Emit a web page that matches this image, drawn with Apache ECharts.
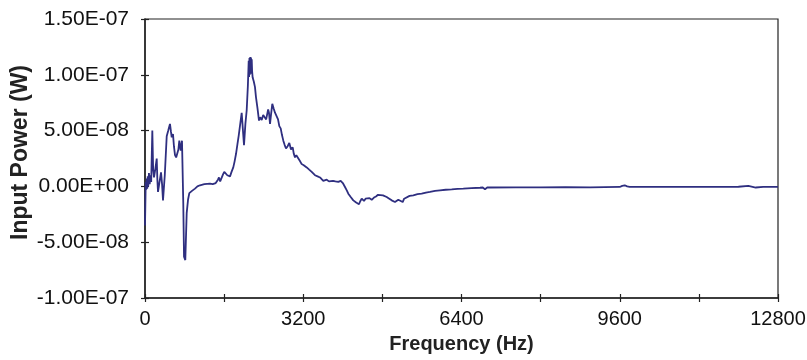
<!DOCTYPE html>
<html>
<head>
<meta charset="utf-8">
<script src="https://cdn.jsdelivr.net/npm/echarts@6/dist/echarts.min.js"></script>
<style>html,body{margin:0;padding:0;background:#fff}#c{width:807px;height:360px}</style>
</head>
<body>
<div id="c"></div>
<script>
// Frequency (Hz)
const freq = [0,15,25,35,45,55,65,80,95,110,125,148,165,182,210,237,250,263,290,324,345,364,400,439,470,505,525,540,566,585,607,630,653,675,694,722,748,774,789,815,843,870,896,950,1011,1060,1112,1200,1314,1340,1369,1400,1430,1450,1475,1496,1520,1551,1580,1603,1630,1664,1690,1719,1750,1785,1810,1840,1870,1895,1921,1955,2002,2030,2056,2080,2097,2105,2112,2120,2128,2136,2143,2150,2158,2166,2177,2200,2224,2244,2275,2305,2330,2360,2390,2426,2450,2473,2490,2507,2528,2550,2574,2600,2629,2663,2690,2716,2744,2770,2797,2825,2851,2885,2918,2952,2987,3010,3033,3060,3094,3130,3168,3210,3270,3320,3371,3400,3437,3490,3539,3570,3605,3640,3674,3720,3760,3801,3850,3909,3957,4000,4044,4080,4111,4160,4212,4270,4327,4350,4382,4428,4460,4495,4540,4584,4630,4671,4712,4752,4812,4850,4887,4940,4988,5020,5055,5090,5122,5160,5211,5240,5278,5350,5425,5510,5595,5680,5763,5865,5965,6080,6202,6320,6436,6600,6774,6830,6875,6920,6976,7500,8000,8500,9000,9600,9650,9700,9750,9800,10500,11000,11500,12000,12200,12350,12500,12800];
// Input power in units of 1e-8 W
const powerE8 = [-3.5,0.4,-0.3,0.7,-0.2,0.9,0.0,1.2,0.2,1.0,0.4,5.0,1.5,0.8,1.6,2.5,0.6,-0.5,0.3,1.25,0.2,-1.25,1.0,4.5,5.0,5.6,4.9,4.4,4.7,3.6,2.8,2.6,2.7,3.3,4.1,3.2,4.1,-1.5,-6.3,-6.6,-2.4,-1.2,-0.6,-0.4,-0.2,0.0,0.1,0.2,0.25,0.15,0.2,0.35,0.3,0.4,0.6,0.8,0.45,0.5,1.1,1.3,1.2,1.0,0.85,0.9,1.3,1.7,2.2,2.9,3.8,4.55,4.4,6.6,3.7,5.6,6.8,9.0,11.25,9.8,11.5,10.0,11.6,10.3,11.55,10.1,11.4,10.3,9.75,9.4,8.9,8.0,7.0,5.9,6.2,5.95,6.4,6.5,6.0,6.1,6.9,6.6,5.6,6.5,7.4,7.0,6.6,6.7,6.0,5.4,5.2,4.6,4.1,3.7,3.4,3.6,3.9,3.3,3.5,2.9,2.6,2.8,2.7,2.3,2.0,1.9,1.7,1.5,1.3,1.2,1.0,0.9,0.8,0.65,0.5,0.6,0.6,0.45,0.55,0.5,0.45,0.4,0.5,0.3,-0.05,-0.35,-0.65,-0.95,-1.25,-1.45,-1.6,-1.35,-1.1,-1.3,-1.1,-0.95,-1.05,-1.2,-1.0,-0.9,-0.75,-0.65,-0.8,-0.9,-0.95,-1.1,-1.25,-1.3,-1.4,-1.25,-1.2,-1.3,-1.4,-1.1,-0.95,-0.85,-0.8,-0.7,-0.65,-0.55,-0.5,-0.4,-0.35,-0.3,-0.27,-0.22,-0.2,-0.15,-0.12,-0.1,-0.25,-0.1,-0.1,-0.08,-0.08,-0.06,-0.08,-0.05,0.05,0.1,0.0,-0.05,-0.05,-0.05,-0.05,-0.03,0.05,-0.1,-0.05,-0.05];
const xTicks = [0,3200,6400,9600,12800];
const yTicksE8 = [-10,-5,0,5,10,15];

const data = freq.map((f, i) => [f, powerE8[i]]);
const fmtY = v => {
  const s = (v * 1e-8).toExponential(2);
  const parts = s.split('e');
  const sign = parts[1][0];
  const d = parts[1].slice(1).padStart(2, '0');
  return parts[0] + 'E' + sign + d;
};
const font = 'Liberation Sans, Arial, sans-serif';
const axisCol = '#222';
const chart = echarts.init(document.getElementById('c'), null, {renderer: 'canvas'});
chart.setOption({
  animation: false,
  grid: {left: 145, right: 29, top: 19, bottom: 62, containLabel: false, outerBoundsMode: 'none',
    show: true, borderColor: axisCol, borderWidth: 1.2, backgroundColor: 'transparent'},
  xAxis: [{
    type: 'value', min: xTicks[0], max: xTicks[xTicks.length - 1], interval: 1600,
    axisLine: {show: true, onZero: false, lineStyle: {color: axisCol, width: 1.5}},
    axisTick: {show: true, length: 4, lineStyle: {color: axisCol, width: 1.2}},
    splitLine: {show: false},
    axisLabel: {margin: 11, color: '#111', fontFamily: font, fontSize: 20,
      formatter: v => xTicks.indexOf(v) >= 0 ? String(v) : ''},
    name: 'Frequency (Hz)', nameLocation: 'middle', nameGap: 36, nameMoveOverlap: false,
    nameTextStyle: {color: '#222', fontFamily: font, fontSize: 20, fontWeight: 'bold'}
  }, {
    type: 'value', min: xTicks[0], max: xTicks[xTicks.length - 1], interval: 1600, position: 'bottom',
    axisLine: {show: false, onZero: false},
    axisTick: {show: true, inside: true, length: 4, lineStyle: {color: axisCol, width: 1.2}},
    splitLine: {show: false}, axisLabel: {show: false}
  }],
  yAxis: [{
    type: 'value', min: yTicksE8[0], max: yTicksE8[yTicksE8.length - 1], interval: 5,
    axisLine: {show: true, onZero: false, lineStyle: {color: axisCol, width: 1.5}},
    axisTick: {show: true, length: 4, lineStyle: {color: axisCol, width: 1.2}},
    splitLine: {show: false},
    axisLabel: {margin: 16, color: '#111', fontFamily: font, fontSize: 21, formatter: fmtY},
    name: 'Input Power (W)', nameLocation: 'middle', nameGap: 113, nameRotate: 90, nameMoveOverlap: false,
    nameTextStyle: {color: '#222', fontFamily: font, fontSize: 23, fontWeight: 'bold', padding: [0, 0, 0, 12]}
  }, {
    type: 'value', min: yTicksE8[0], max: yTicksE8[yTicksE8.length - 1], interval: 5, position: 'left',
    axisLine: {show: false, onZero: false},
    axisTick: {show: true, inside: true, length: 4, lineStyle: {color: axisCol, width: 1.2}},
    splitLine: {show: false}, axisLabel: {show: false}
  }],
  series: [{
    type: 'line', data: data, showSymbol: false, symbol: 'none',
    lineStyle: {color: '#2f2f80', width: 1.8}, z: 3
  }]
});
</script>
</body>
</html>
